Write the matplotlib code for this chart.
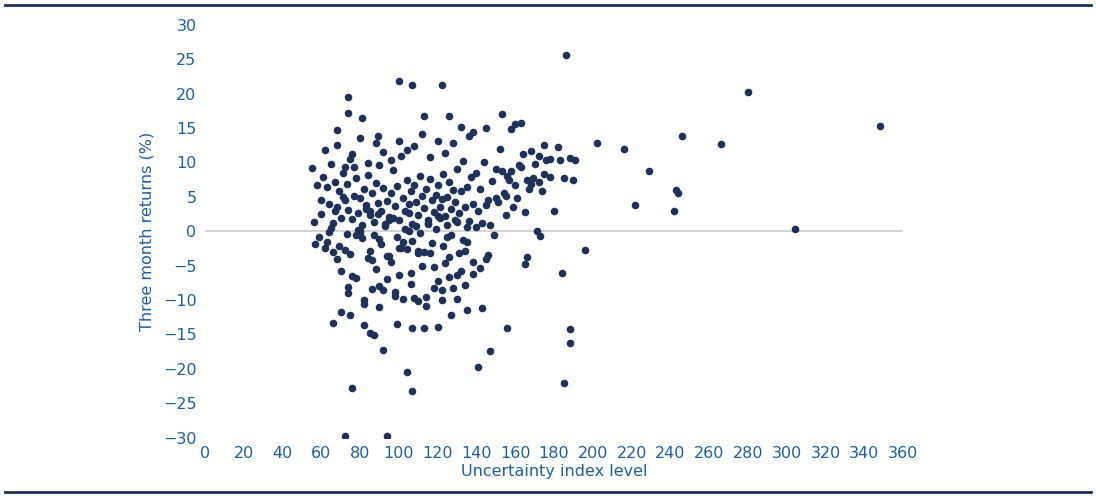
import matplotlib.pyplot as plt

# uncertainty index level, three month returns (%)
index_level = [
    186, 100, 107, 122, 280, 74, 348, 246, 266, 202, 216, 229, 222, 242, 243, 244, 304, 196, 184, 188,
    188, 185, 72, 94, 76, 107, 104, 141, 147, 92, 156, 66, 75, 82, 85, 87, 113, 120, 99, 107,
    143, 135, 127, 74, 81, 68, 89, 113, 126, 153, 160, 163, 182, 188, 191, 175, 168, 172, 145, 138,
    55, 58, 60, 62, 63, 64, 65, 66, 67, 68, 69, 70, 71, 72, 73, 74, 75, 76, 77, 78,
    79, 80, 81, 82, 83, 84, 85, 86, 87, 88, 89, 90, 91, 92, 93, 94, 95, 96, 97, 98,
    99, 100, 101, 102, 103, 104, 105, 106, 107, 108, 109, 110, 111, 112, 113, 114, 115, 116, 117, 118,
    119, 120, 121, 122, 123, 124, 125, 126, 127, 128, 129, 130, 131, 132, 133, 134, 135, 136, 137, 138,
    56, 59, 61, 63, 65, 67, 69, 71, 73, 75, 77, 79, 81, 83, 85, 87, 89, 91, 93, 95,
    97, 99, 101, 103, 105, 107, 109, 111, 113, 115, 117, 119, 121, 123, 125, 127, 129, 131, 133, 135,
    57, 60, 64, 68, 72, 76, 80, 84, 88, 92, 96, 100, 104, 108, 112, 116, 120, 124, 128, 132,
    62, 66, 70, 74, 78, 82, 86, 90, 94, 98, 102, 106, 110, 114, 118, 122, 126, 130, 134, 138,
    140, 142, 144, 146, 148, 150, 152, 154, 156, 158, 160, 162, 164, 166, 168, 170, 172, 174, 176, 178,
    141, 143, 145, 147, 149, 151, 153, 155, 157, 159, 161, 163, 165, 167, 169, 171, 173, 175, 180, 183,
    70, 74, 78, 82, 86, 90, 94, 98, 102, 106, 110, 114, 118, 122, 126, 130, 134, 138, 142, 146,
    68, 72, 76, 80, 84, 88, 92, 96, 100, 104, 108, 112, 116, 120, 124, 128, 132, 136, 150, 158,
    80, 85, 90, 95, 100, 105, 110, 115, 120, 125, 130, 135, 140, 145, 155, 165, 185, 190, 178, 166,
]
returns = [
    25.7, 21.9, 21.3, 21.3, 20.3, 19.5, 15.3, 13.8, 12.7, 12.8, 12.0, 8.8, 3.8, 2.9, 6.0, 5.5, 0.3, -2.7, -6.0, -14.2,
    -16.3, -22.1, -29.8, -29.8, -22.8, -23.3, -20.5, -19.8, -17.4, -17.3, -14.1, -13.3, -12.2, -13.7, -14.8, -15.1, -14.0, -13.9, -13.5, -14.0,
    -11.2, -11.5, -12.2, 17.2, 16.5, 14.7, 13.8, 16.8, 16.7, 17.0, 15.6, 15.8, 12.2, 10.6, 10.4, 12.6, 11.7, 11.0, 15.0, 14.5,
    9.2, 6.8, 2.5, 11.8, 6.5, 4.0, 9.8, 1.2, 7.2, 3.5, 5.8, 2.0, 8.5, 4.6, 6.9, 3.1, 10.5, 1.8, 5.2, 7.7,
    2.6, 4.9, 0.9, 6.1, 3.3, 8.2, 2.4, 5.6, 1.4, 7.0, 4.1, 9.6, 3.0, 6.3, 1.0, 4.4, 2.1, 5.5, 8.9, 3.7,
    6.6, 1.6, 10.9, 4.8, 2.9, 7.4, 3.9, 5.9, 1.1, 6.7, 4.2, 2.3, 8.0, 5.1, 3.4, 6.2, 1.7, 7.6, 4.5, 2.8,
    5.3, 6.8, 3.6, 4.7, 8.4, 2.2, 5.0, 7.1, 3.2, 6.0, 4.3, 9.1, 2.7, 5.8, 10.2, 3.5, 6.5, 1.5, 7.9, 4.0,
    1.3, -0.8, 7.9, -1.6, 0.5, 2.9, -2.2, 5.0, -0.4, -3.3, 9.4, 0.2, -1.0, 3.8, -2.9, -0.6, 2.5, -1.8, 0.8, -3.6,
    1.9, -0.9, -2.5, 0.4, 2.6, -1.4, 0.7, -0.2, -3.0, 1.2, -1.7, 0.3, 2.0, -2.1, 0.9, -0.5, 1.6, -3.1, -1.2, 0.6,
    -1.8, 4.5, -0.1, -4.0, -2.7, -6.5, 0.0, -3.9, -5.5, -8.6, -4.4, -6.3, -2.6, -9.7, -5.0, -3.2, -7.2, -4.6, -8.3, -5.8,
    -2.4, -3.0, -5.8, -8.1, -0.5, -10.0, -4.2, -7.9, -3.6, -9.4, -1.6, -6.1, -2.8, -10.8, -5.2, -8.6, -3.8, -6.3, -2.9, -4.4,
    8.5, 6.2, 10.1, 4.6, 7.3, 9.1, 12.0, 5.5, 8.1, 14.9, 6.8, 9.6, 11.3, 7.5, 6.9, 9.8, 7.1, 5.8, 10.3, 7.9,
    2.9, 1.2, 3.8, 0.9, -0.6, 4.3, 8.8, 5.2, 7.4, 3.6, 4.9, 9.3, -4.8, 6.1, 7.8, 0.0, -0.7, 8.4, 3.0, 10.4,
    -11.8, -9.0, -6.8, -10.6, -8.4, -11.0, -7.0, -8.8, -9.9, -7.6, -10.2, -9.6, -8.2, -10.0, -6.6, -9.8, -7.8, -6.2, -5.3, -3.5,
    12.6, 9.3, 11.2, 13.6, 10.0, 12.9, 11.5, 10.3, 13.1, 11.8, 12.4, 14.1, 10.8, 13.2, 11.4, 12.8, 15.1, 13.8, 4.8, 8.7,
    -0.3, 3.0, -1.1, 1.7, -2.4, 0.1, -3.2, 1.0, 2.2, -0.8, 1.4, -1.5, 0.6, -4.1, 2.3, 2.8, 7.8, 7.5, 10.5, -3.7,
]

navy = '#1f3158'
blue = '#1f5fa0'

fig = plt.figure(figsize=(10.96, 5.0), dpi=100)
ax = fig.add_axes([0.187, 0.125, 0.637, 0.825])
ax.axhline(0, color='#cccccc', lw=1.2, zorder=1)
ax.scatter(index_level, returns, s=30, color=navy, zorder=2, linewidths=0)

ax.set_xlim(0, 360)
ax.set_ylim(-30, 30)
ax.set_xticks(range(0, 361, 20))
ax.set_yticks(range(-30, 31, 5))
for s in ax.spines.values():
    s.set_visible(False)
ax.tick_params(length=0, colors=blue, labelsize=11.5, pad=6)
ax.set_xlabel('Uncertainty index level', color=blue, fontsize=11.5, labelpad=2)
ax.set_ylabel('Three month returns (%)', color=blue, fontsize=11.5, labelpad=6)

fig.add_artist(plt.Line2D([0.005, 0.995], [0.99, 0.99], color=navy, lw=2))
fig.add_artist(plt.Line2D([0.005, 0.995], [0.016, 0.016], color=navy, lw=2))

fig.savefig('out.png', dpi=100)
